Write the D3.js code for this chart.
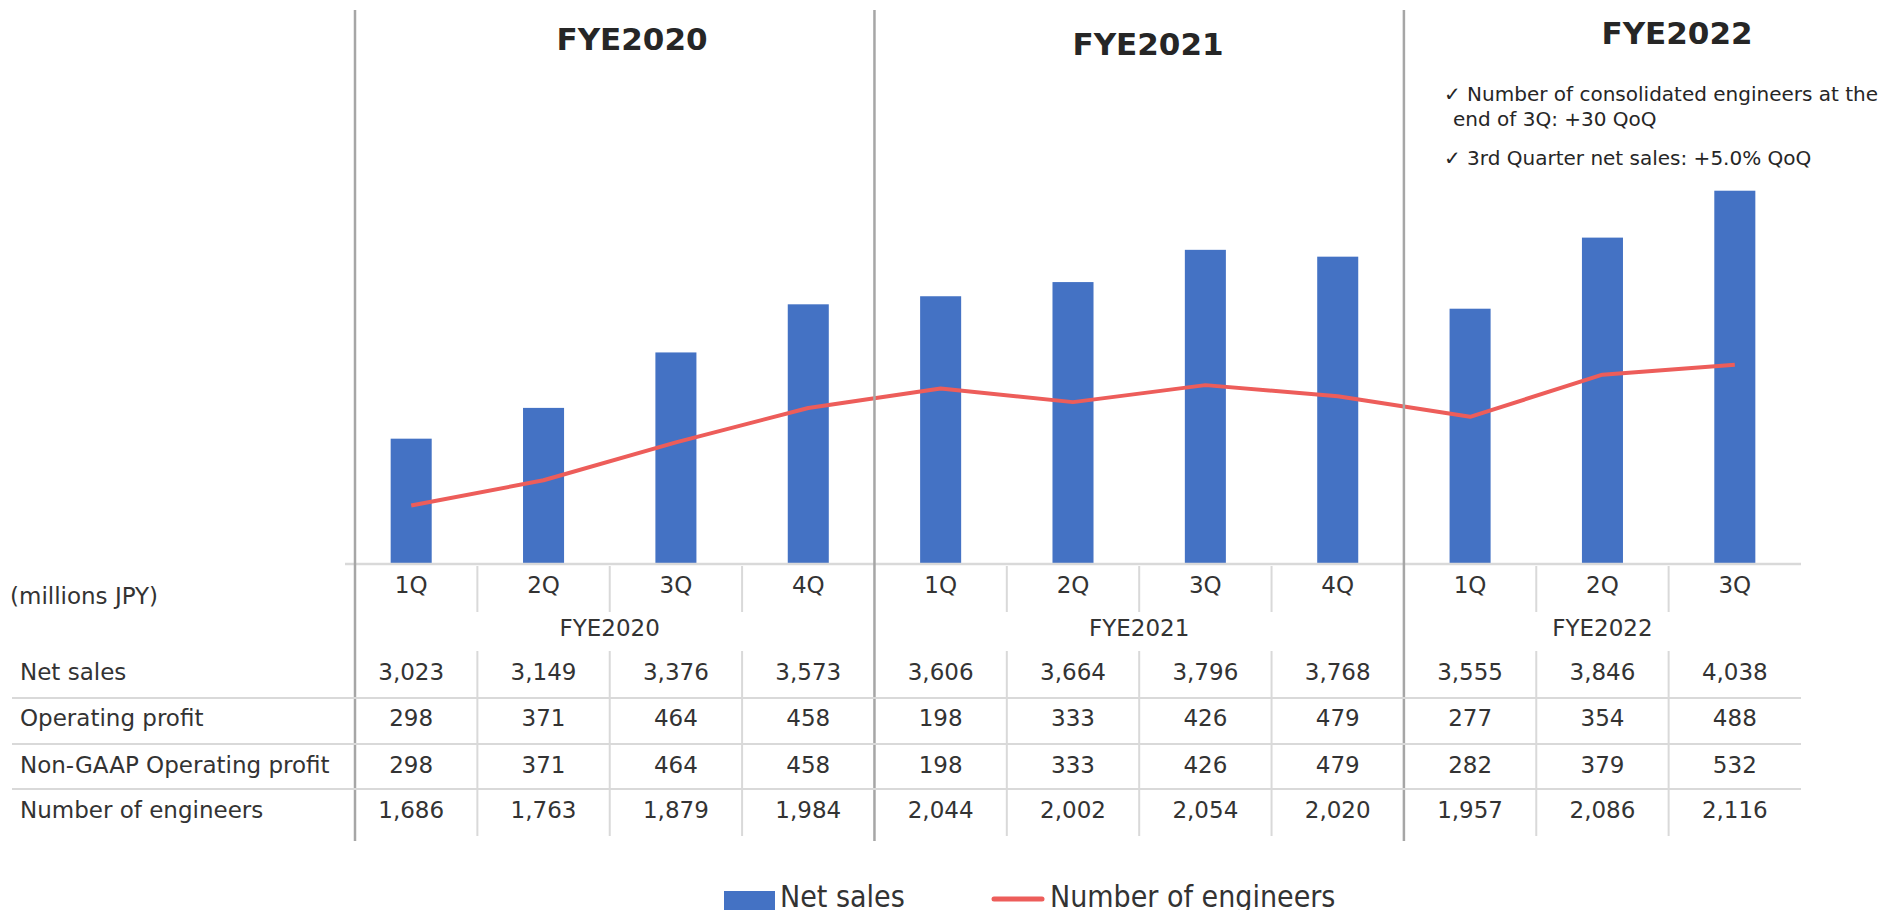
<!DOCTYPE html>
<html>
<head>
    <meta charset="utf-8">
    <style>
        body {
            margin: 0;
            background: #fff;
        }
        svg {
            display: block;
            font-family: 'DejaVu Sans', sans-serif;
        }
        .year-title {
            font-weight: bold;
            font-size: 31px;
            fill: #262626;
        }
        .note {
            font-size: 20px;
            fill: #262626;
        }
        .cell {
            font-size: 23px;
            fill: #333;
        }
        .grid {
            stroke: #d9d9d9;
            stroke-width: 2px;
        }
        .legend text {
            font-family: 'DejaVu Sans Condensed', 'DejaVu Sans', sans-serif;
            font-size: 30px;
            fill: #333;
        }
    </style>
</head>
<body>
<svg width="1898" height="910"></svg>

<script src="https://d3js.org/d3.v7.min.js"></script>
<script>
    // data
    const quarters = ["1Q", "2Q", "3Q", "4Q", "1Q", "2Q", "3Q", "4Q", "1Q", "2Q", "3Q"];
    const fiscalYears = ["FYE2020", "FYE2020", "FYE2020", "FYE2020",
                         "FYE2021", "FYE2021", "FYE2021", "FYE2021",
                         "FYE2022", "FYE2022", "FYE2022"];
    const netSales = [3023, 3149, 3376, 3573, 3606, 3664, 3796, 3768, 3555, 3846, 4038];
    const operatingProfit = [298, 371, 464, 458, 198, 333, 426, 479, 277, 354, 488];
    const nonGaapProfit = [298, 371, 464, 458, 198, 333, 426, 479, 282, 379, 532];
    const engineers = [1686, 1763, 1879, 1984, 2044, 2002, 2054, 2020, 1957, 2086, 2116];

    const yearNames = ["FYE2020", "FYE2021", "FYE2022"];
    const rowLabels = ["Net sales", "Operating profit", "Non-GAAP Operating profit", "Number of engineers"];
    const notes = ["\u2713 Number of consolidated engineers at the", "end of 3Q: +30 QoQ", "\u2713 3rd Quarter net sales: +5.0% QoQ"];

    let margin = { left: 345, right: 97, base: 564 };
    let width = 1898;

    let svg = d3.select("svg");

    let keys = quarters.map((q, i) => fiscalYears[i] + " " + q);

    let x = d3.scaleBand()
        .domain(keys)
        .range([margin.left, width - margin.right])
        .paddingInner(0.69)
        .paddingOuter(0.345);

    // bands without padding for the table cells
    let cellX = d3.scaleBand()
        .domain(keys)
        .range([margin.left, width - margin.right]);

    let ySales = d3.scaleLinear()
        .domain([2510, 4500])
        .range([margin.base, margin.base - 1990 * 0.2443]);

    let yEng = d3.scaleLinear()
        .domain([1507, 2900])
        .range([margin.base, margin.base - 1393 * 0.327]);

    // bars
    svg.append("g")
        .selectAll("rect")
        .data(netSales)
        .join("rect")
        .attr("x", (d, i) => x(keys[i]))
        .attr("width", x.bandwidth())
        .attr("y", d => ySales(d))
        .attr("height", d => ySales.range()[0] - ySales(d))
        .style("fill", "#4472c4");

    // engineers line
    let line = d3.line()
        .x((d, i) => cellX(keys[i]) + cellX.bandwidth() / 2)
        .y(d => yEng(d));

    svg.append("path")
        .attr("d", line(engineers))
        .style("fill", "none")
        .style("stroke", "#ed5d5a")
        .style("stroke-width", "4px")
        .style("stroke-linejoin", "round");

    // axis baseline
    svg.append("line")
        .attr("x1", cellX.range()[0])
        .attr("x2", cellX.range()[1])
        .attr("y1", margin.base)
        .attr("y2", margin.base)
        .style("stroke", "#d9d9d9")
        .style("stroke-width", "2.5px");

    // year groups: first and last index of each year
    let yearStart = yearNames.map(y => fiscalYears.indexOf(y));
    let yearEnd = yearNames.map(y => fiscalYears.lastIndexOf(y));

    // year dividers
    let dividerX = yearStart.map((s, i) => i == 0 ? cellX(keys[s]) + 10 : cellX(keys[s]));
    svg.append("g")
        .selectAll("line")
        .data(dividerX)
        .join("line")
        .attr("x1", d => d)
        .attr("x2", d => d)
        .attr("y1", 10)
        .attr("y2", 841)
        .style("stroke", "#a6a6a6")
        .style("stroke-width", "2.5px");

    // year titles on top
    let titlePos = [[632, 50], [1148, 55], [1677, 44]];
    svg.append("g")
        .selectAll("text")
        .data(yearNames)
        .join("text")
        .attr("class", "year-title")
        .attr("x", (d, i) => titlePos[i][0])
        .attr("y", (d, i) => titlePos[i][1])
        .attr("text-anchor", "middle")
        .text(d => d);

    // notes
    let noteX = [1444, 1453, 1444];
    let noteY = [101, 126, 165];
    svg.append("g")
        .selectAll("text")
        .data(notes)
        .join("text")
        .attr("class", "note")
        .attr("x", (d, i) => noteX[i])
        .attr("y", (d, i) => noteY[i])
        .text(d => d);

    // ---- table ----
    let cellCenter = i => cellX(keys[i]) + cellX.bandwidth() / 2;

    svg.append("text")
        .attr("class", "cell")
        .attr("x", 10)
        .attr("y", 604)
        .text("(millions JPY)");

    // quarter labels
    svg.append("g")
        .selectAll("text")
        .data(quarters)
        .join("text")
        .attr("class", "cell")
        .attr("x", (d, i) => cellCenter(i))
        .attr("y", 593)
        .attr("text-anchor", "middle")
        .text(d => d);

    // vertical grid in quarter row (skip year boundaries)
    let innerBounds = keys.map((k, i) => i).filter(i => i > 0 && yearStart.indexOf(i) < 0);
    svg.append("g")
        .selectAll("line")
        .data(innerBounds)
        .join("line")
        .attr("class", "grid")
        .attr("x1", i => cellX(keys[i]))
        .attr("x2", i => cellX(keys[i]))
        .attr("y1", 566)
        .attr("y2", 612);

    // fiscal year labels under quarters
    svg.append("g")
        .selectAll("text")
        .data(yearNames)
        .join("text")
        .attr("class", "cell")
        .attr("x", (d, i) => (cellX(keys[yearStart[i]]) + cellX(keys[yearEnd[i]]) + cellX.bandwidth()) / 2)
        .attr("y", 636)
        .attr("text-anchor", "middle")
        .text(d => d);

    // data rows
    let rows = [netSales, operatingProfit, nonGaapProfit, engineers];
    let rowY = [680, 726, 773, 818];
    let fmt = d3.format(",");

    svg.append("g")
        .selectAll("text")
        .data(rowLabels)
        .join("text")
        .attr("class", "cell")
        .attr("x", 20)
        .attr("y", (d, i) => rowY[i])
        .text(d => d);

    rows.forEach(function (row, r) {
        svg.append("g")
            .selectAll("text")
            .data(row)
            .join("text")
            .attr("class", "cell")
            .attr("x", (d, i) => cellCenter(i))
            .attr("y", rowY[r])
            .attr("text-anchor", "middle")
            .text(d => fmt(d));
    });

    // row separators
    svg.append("g")
        .selectAll("line")
        .data([698, 744, 789])
        .join("line")
        .attr("class", "grid")
        .attr("x1", 12)
        .attr("x2", cellX.range()[1])
        .attr("y1", d => d)
        .attr("y2", d => d);

    // vertical grid in data rows
    svg.append("g")
        .selectAll("line")
        .data(innerBounds)
        .join("line")
        .attr("class", "grid")
        .attr("x1", i => cellX(keys[i]))
        .attr("x2", i => cellX(keys[i]))
        .attr("y1", 651)
        .attr("y2", 836);

    // legend (cut by the bottom edge, as in the source)
    let legend = svg.append("g").attr("class", "legend");
    legend.append("rect")
        .attr("x", 724)
        .attr("y", 891)
        .attr("width", 51)
        .attr("height", 19)
        .style("fill", "#4472c4");
    legend.append("text")
        .attr("x", 780)
        .attr("y", 907)
        .text("Net sales");
    legend.append("line")
        .attr("x1", 994)
        .attr("x2", 1042)
        .attr("y1", 899)
        .attr("y2", 899)
        .style("stroke", "#ed5d5a")
        .style("stroke-width", "5px")
        .style("stroke-linecap", "round");
    legend.append("text")
        .attr("x", 1050)
        .attr("y", 907)
        .text("Number of engineers");
</script>
</body>
</html>
